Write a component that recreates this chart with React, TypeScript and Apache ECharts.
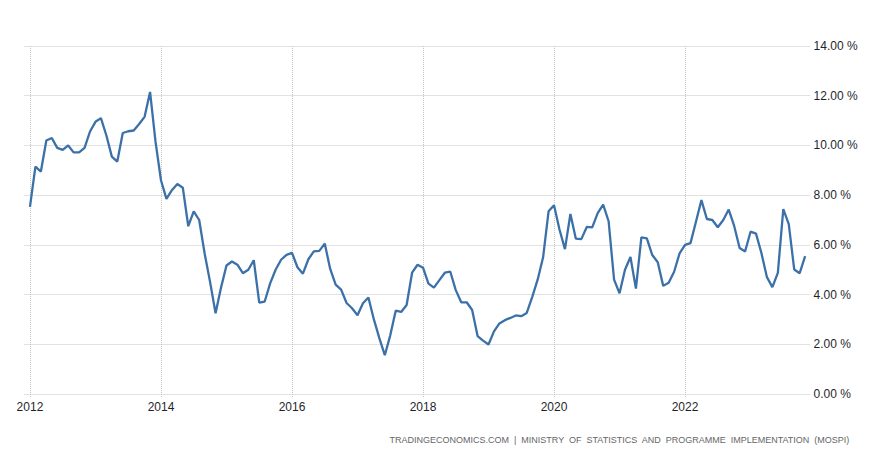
import React, { useEffect, useRef } from "react";
import * as echarts from "echarts";

// Monthly inflation rate (%), Jan 2012 – Nov 2023
const V2012 = [7.53, 9.15, 8.95, 10.2, 10.3, 9.9, 9.82, 10.0, 9.72, 9.72, 9.9, 10.56];
const V2013 = [10.95, 11.1, 10.4, 9.55, 9.35, 10.5, 10.57, 10.6, 10.86, 11.15, 12.15, 10.15];
const V2014 = [8.6, 7.85, 8.2, 8.45, 8.3, 6.75, 7.35, 7.0, 5.65, 4.5, 3.25, 4.28];
const V2015 = [5.17, 5.33, 5.2, 4.86, 5.0, 5.38, 3.68, 3.72, 4.45, 5.0, 5.4, 5.6];
const V2016 = [5.68, 5.1, 4.84, 5.42, 5.74, 5.76, 6.05, 5.03, 4.4, 4.2, 3.66, 3.45];
const V2017 = [3.17, 3.65, 3.88, 3.0, 2.25, 1.56, 2.36, 3.35, 3.3, 3.58, 4.88, 5.2];
const V2018 = [5.08, 4.44, 4.28, 4.58, 4.88, 4.92, 4.18, 3.69, 3.69, 3.38, 2.33, 2.15];
const V2019 = [1.99, 2.52, 2.84, 2.97, 3.06, 3.16, 3.13, 3.26, 3.9, 4.6, 5.5, 7.35];
const V2020 = [7.59, 6.62, 5.83, 7.24, 6.25, 6.23, 6.72, 6.7, 7.28, 7.62, 6.95, 4.6];
const V2021 = [4.05, 5.0, 5.51, 4.24, 6.3, 6.26, 5.59, 5.3, 4.35, 4.48, 4.92, 5.66];
const V2022 = [6.0, 6.07, 6.93, 7.8, 7.04, 7.0, 6.71, 7.0, 7.42, 6.76, 5.87, 5.73];
const V2023 = [6.53, 6.45, 5.66, 4.7, 4.3, 4.87, 7.44, 6.83, 5.01, 4.86, 5.55];

const YEARS = [2012, 2013, 2014, 2015, 2016, 2017, 2018, 2019, 2020, 2021, 2022, 2023];
const MONTHS = ["01", "02", "03", "04", "05", "06", "07", "08", "09", "10", "11", "12"];
const Y_TICKS = [0, 2, 4, 6, 8, 10, 12, 14];
const SOURCE = "TRADINGECONOMICS.COM  |  MINISTRY  OF  STATISTICS  AND  PROGRAMME  IMPLEMENTATION  (MOSPI)";

const YEAR_VALUES = [V2012, V2013, V2014, V2015, V2016, V2017, V2018, V2019, V2020, V2021, V2022, V2023];

export default function App() {
  const ref = useRef<HTMLDivElement>(null);

  useEffect(() => {
    if (!ref.current) return;
    const chart = echarts.init(ref.current, null, { renderer: "svg" });

    // categories padded with one month before and after the data
    const categories: string[] = ["2011-12"];
    const values: (number | null)[] = [null];
    YEARS.forEach((y, yi) => {
      MONTHS.forEach((m, mi) => {
        categories.push(`${y}-${m}`);
        const v = YEAR_VALUES[yi][mi];
        values.push(v === undefined ? null : v);
      });
    });

    const isMajor = (_i: number, v: string) =>
      typeof v === "string" && v.endsWith("-01") && Number(v.slice(0, 4)) % 2 === 0;

    const font = "Liberation Sans, Arial, sans-serif";
    const gridColor = "#c4c4c4";

    chart.setOption({
      animation: false,
      backgroundColor: "#ffffff",
      grid: {
        left: 24.5,
        right: 65.4,
        top: 46,
        bottom: 57,
        containLabel: false,
        outerBoundsMode: "none",
      },
      xAxis: {
        type: "category",
        data: categories,
        boundaryGap: false,
        axisLine: { show: false },
        axisTick: {
          show: true,
          interval: isMajor,
          length: 4,
          lineStyle: { color: gridColor, type: "dotted" },
        },
        axisLabel: {
          interval: isMajor,
          formatter: (v: string) => v.slice(0, 4),
          color: "#1f1f2e",
          fontFamily: font,
          fontSize: 12,
          margin: 7,
        },
        splitLine: {
          show: true,
          interval: isMajor,
          lineStyle: { color: gridColor, type: "dotted", width: 1 },
        },
      },
      yAxis: {
        type: "value",
        position: "right",
        min: Y_TICKS[0],
        max: Y_TICKS[Y_TICKS.length - 1],
        interval: 2,
        axisLine: { show: false },
        axisTick: { show: false },
        axisLabel: {
          formatter: (v: number) => `${v.toFixed(2)} %`,
          color: "#1f1f2e",
          fontFamily: font,
          fontSize: 12,
          margin: 3,
        },
        splitLine: {
          show: true,
          lineStyle: { color: gridColor, type: "dotted", width: 1 },
        },
      },
      series: [
        {
          type: "line",
          data: values,
          symbol: "none",
          showSymbol: false,
          connectNulls: false,
          lineStyle: { color: "#3b71a8", width: 2.3 },
          itemStyle: { color: "#3b71a8" },
        },
      ],
      graphic: [
        {
          type: "text",
          right: 26,
          top: 435,
          style: {
            text: SOURCE,
            fill: "#666666",
            font: `9px ${font}`,
          },
        },
      ],
    });

    return () => chart.dispose();
  }, []);

  return (
    <div
      ref={ref}
      style={{ position: "absolute", left: 0, top: 0, width: 876, height: 451, background: "#fff" }}
    />
  );
}
